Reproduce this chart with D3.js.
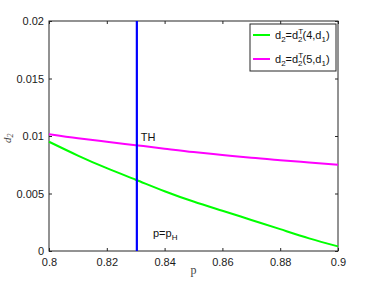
<!DOCTYPE html>
<html>
<head>
<meta charset="utf-8">
<script src="https://cdn.jsdelivr.net/npm/d3@7"></script>
<style>
  body { margin: 0; background: #fff; }
  text { font-family: "Liberation Sans", Arial, sans-serif; }
</style>
</head>
<body>
<svg id="chart" width="374" height="283"></svg>
<script>
// values
var pValues = [0.80, 0.81, 0.82, 0.83, 0.84, 0.85, 0.86, 0.87, 0.88, 0.89, 0.90];
var green4 = [0.0095, 0.0083, 0.0072, 0.0062, 0.0052, 0.0043, 0.0035, 0.0027, 0.0019, 0.0011, 0.0004];
var magenta5 = [0.01015, 0.0098, 0.0095, 0.0092, 0.0089, 0.0086, 0.00835, 0.0081, 0.0079, 0.0077, 0.0075];
var pH = 0.8304;
var xTicks = [0.8, 0.82, 0.84, 0.86, 0.88, 0.9];
var yTicks = [0, 0.005, 0.01, 0.015, 0.02];

var svg = d3.select("#chart");
var margin = {left: 49, top: 21, right: 36, bottom: 32};
var W = 374, H = 283;

var x = d3.scaleLinear().domain([0.8, 0.9]).range([margin.left, W - margin.right]);
var y = d3.scaleLinear().domain([0, 0.02]).range([H - margin.bottom, margin.top]);

var axisColor = "#262626";

// box
svg.append("rect")
    .attr("x", x(0.8)).attr("y", y(0.02))
    .attr("width", x(0.9) - x(0.8)).attr("height", y(0) - y(0.02))
    .attr("fill", "none").attr("stroke", axisColor).attr("stroke-width", 1);

function fmt(d) { return d3.format("")(+d.toFixed(3)); }

// axes with inward ticks
var xAxis = svg.append("g").attr("transform", "translate(0," + y(0) + ")")
    .call(d3.axisBottom(x).tickValues(xTicks).tickSizeInner(-3).tickSizeOuter(0).tickPadding(7).tickFormat(fmt));
var xAxisTop = svg.append("g").attr("transform", "translate(0," + y(0.02) + ")")
    .call(d3.axisTop(x).tickValues(xTicks).tickSizeInner(-3).tickSizeOuter(0).tickFormat(""));
var yAxis = svg.append("g").attr("transform", "translate(" + x(0.8) + ",0)")
    .call(d3.axisLeft(y).tickValues(yTicks).tickSizeInner(-3).tickSizeOuter(0).tickPadding(5).tickFormat(fmt));
var yAxisRight = svg.append("g").attr("transform", "translate(" + x(0.9) + ",0)")
    .call(d3.axisRight(y).tickValues(yTicks).tickSizeInner(-3).tickSizeOuter(0).tickFormat(""));

[xAxis, xAxisTop, yAxis, yAxisRight].forEach(function (g) {
    g.select(".domain").remove();
    g.selectAll("line").attr("stroke", axisColor);
    g.selectAll("text").attr("fill", "#1a1a1a").style("font-size", "11px")
        .style("font-family", "'Liberation Sans', Arial, sans-serif");
});

// lines
var line = d3.line().x(function (d) { return x(d[0]); }).y(function (d) { return y(d[1]); })
    .curve(d3.curveNatural);

svg.append("path")
    .datum(pValues.map(function (p, i) { return [p, green4[i]]; }))
    .attr("d", line)
    .attr("fill", "none").attr("stroke", "#00ff00").attr("stroke-width", 2);

svg.append("path")
    .datum(pValues.map(function (p, i) { return [p, magenta5[i]]; }))
    .attr("d", line)
    .attr("fill", "none").attr("stroke", "#ff00ff").attr("stroke-width", 2);

svg.append("line")
    .attr("x1", x(pH)).attr("x2", x(pH))
    .attr("y1", y(0)).attr("y2", y(0.02))
    .attr("stroke", "#0000ff").attr("stroke-width", 2.2);

// annotations
svg.append("text").attr("x", x(pH) + 4).attr("y", 141)
    .style("font-size", "11px").attr("fill", "#111").text("TH");

var ph = svg.append("text").attr("x", 153).attr("y", 237)
    .style("font-size", "11px").attr("fill", "#111");
ph.append("tspan").text("p=p");
ph.append("tspan").attr("dy", 3).style("font-size", "8px").text("H");

// axis labels
svg.append("text").attr("x", x(0.85)).attr("y", 274)
    .attr("text-anchor", "middle")
    .style("font-family", "'Liberation Serif', 'DejaVu Serif', serif")
    .style("font-size", "12px").attr("fill", "#444").text("p");

var yl = svg.append("text")
    .attr("transform", "translate(11," + y(0.0098) + ") rotate(-90)")
    .attr("text-anchor", "middle")
    .style("font-family", "'Liberation Serif', 'DejaVu Serif', serif")
    .style("font-style", "italic")
    .style("font-size", "11px").attr("fill", "#444");
yl.append("tspan").text("d");
yl.append("tspan").attr("dy", 2).style("font-size", "8px").text("2");

// legend
var lg = svg.append("g");
lg.append("rect").attr("x", 250).attr("y", 24).attr("width", 86).attr("height", 47)
    .attr("fill", "#fff").attr("stroke", "#262626").attr("stroke-width", 1);

var legendItems = [
    {color: "#00ff00", arg: "4"},
    {color: "#ff00ff", arg: "5"}
];
legendItems.forEach(function (it, i) {
    var cy = 35 + i * 24;
    lg.append("line").attr("x1", 253).attr("x2", 270).attr("y1", cy).attr("y2", cy)
        .attr("stroke", it.color).attr("stroke-width", 2);
    var t = lg.append("text").attr("x", 275).attr("y", cy + 4)
        .style("font-size", "11px").attr("fill", "#111");
    t.append("tspan").text("d");
    t.append("tspan").attr("dy", 3).style("font-size", "8px").text("2");
    t.append("tspan").attr("dy", -3).text("=d");
    t.append("tspan").attr("dy", -5).style("font-size", "8px").text("T");
    t.append("tspan").attr("dx", -5).attr("dy", 8).style("font-size", "8px").text("2");
    t.append("tspan").attr("dy", -3).text("(" + it.arg + ",d");
    t.append("tspan").attr("dy", 3).style("font-size", "8px").text("1");
    t.append("tspan").attr("dy", -3).text(")");
});
</script>
</body>
</html>
